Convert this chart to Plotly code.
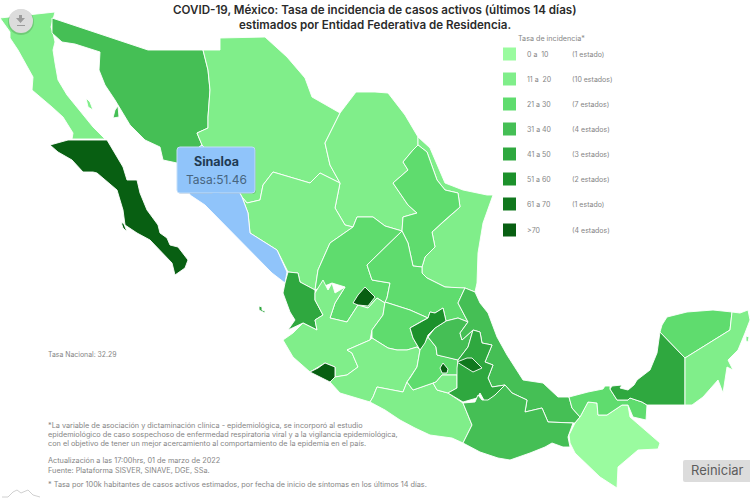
"""
Mapa de tasa de incidencia COVID-19 por entidad federativa (Plotly).
"""
import plotly.graph_objects as go

FONT = "Inter"

# Contornos estimados de cada estado, en unidades del mapa
BAJA_CALIFORNIA = [(0, 18), (18, 16), (55, 12), (51, 27), (53, 33), (55, 42), (53, 50), (55, 63), (58, 80), (67, 95),
                   (82, 113), (93, 127), (105, 139), (72, 139), (73, 133), (63, 117), (52, 107), (40, 97), (32, 90),
                   (33, 77), (25, 63), (18, 50), (10, 38), (10, 32)]
BC_ISLA = [(86, 98), (90, 102), (93, 110), (88, 107)]
BAJA_CALIFORNIA_SUR = [(50, 145), (68, 140), (107, 140), (115, 153), (123, 167), (127, 180), (137, 180), (140, 193),
                       (147, 210), (158, 225), (160, 233), (167, 238), (170, 245), (178, 247), (188, 260), (185, 268),
                       (175, 275), (172, 263), (150, 240), (137, 233), (125, 225), (123, 210), (117, 190), (97, 173),
                       (93, 172), (83, 172), (72, 160), (58, 152)]
BCS_ISLA = [(121, 222), (124, 224), (127, 232), (123, 228)]
SONORA = [(52, 18), (148, 50), (203, 50), (208, 70), (210, 90), (208, 117), (208, 128), (197, 133), (202, 145),
          (177, 163), (163, 160), (160, 147), (145, 140), (130, 125), (115, 100), (105, 85), (99, 70), (100, 52),
          (75, 44), (62, 42), (52, 33)]
SONORA_ISLA = [(118, 106), (119, 117), (113, 118), (115, 110)]
CHIHUAHUA = [(203, 50), (220, 50), (220, 38), (265, 37), (287, 57), (305, 78), (312, 97), (340, 113), (325, 143),
             (330, 165), (340, 183), (320, 173), (310, 183), (290, 177), (273, 172), (263, 185), (260, 200), (247, 203),
             (242, 197), (230, 175), (202, 145), (197, 133), (208, 128), (208, 117), (210, 90), (208, 70)]
COAHUILA = [(340, 113), (356, 92), (375, 92), (388, 93), (405, 115), (418, 137), (418, 145), (413, 150), (403, 162),
            (408, 170), (393, 183), (408, 205), (417, 213), (403, 217), (402, 231), (385, 226), (373, 217), (357, 217),
            (353, 227), (345, 225), (335, 208), (340, 183), (330, 165), (325, 143)]
NUEVO_LEON = [(418, 145), (427, 152), (437, 180), (445, 190), (458, 193), (460, 207), (445, 220), (432, 232), (435, 247),
              (425, 257), (422, 267), (413, 266), (408, 243), (402, 231), (403, 217), (417, 213), (408, 205), (393, 183),
              (408, 170), (403, 162), (413, 150)]
TAMAULIPAS = [(418, 137), (430, 148), (445, 183), (463, 190), (487, 195), (493, 195), (483, 223), (478, 253), (477, 283),
              (475, 292), (465, 288), (458, 288), (445, 287), (427, 278), (422, 273), (422, 267), (425, 257), (435, 247),
              (432, 232), (445, 220), (460, 207), (458, 193), (445, 190), (437, 180), (427, 152), (418, 145)]
SINALOA = [(177, 163), (190, 195), (205, 205), (225, 225), (245, 245), (260, 260), (272, 273), (285, 283), (287, 272),
           (277, 250), (250, 233), (248, 213), (242, 197), (230, 175), (202, 145)]
DURANGO = [(242, 197), (247, 203), (260, 200), (263, 185), (273, 172), (290, 177), (310, 183), (320, 173), (340, 183),
           (335, 208), (345, 225), (353, 227), (330, 243), (318, 270), (315, 290), (300, 282), (298, 273), (288, 272),
           (277, 250), (250, 233), (248, 213)]
ZACATECAS = [(357, 217), (373, 217), (385, 226), (402, 231), (367, 265), (372, 280), (390, 283), (387, 298), (385, 303),
             (377, 298), (368, 308), (358, 305), (347, 322), (330, 318), (335, 303), (345, 287), (332, 283), (315, 290),
             (318, 270), (330, 243), (353, 227)]
SAN_LUIS_POTOSI = [(402, 231), (408, 243), (413, 266), (422, 267), (422, 273), (427, 278), (445, 287), (458, 288),
                   (465, 288), (458, 303), (468, 322), (458, 318), (446, 321), (443, 308), (435, 313), (430, 312),
                   (428, 318), (410, 310), (385, 302), (387, 298), (390, 283), (372, 280), (367, 265)]
NAYARIT = [(288, 272), (298, 273), (300, 282), (315, 290), (315, 300), (323, 315), (315, 320), (317, 330), (303, 323),
           (288, 330), (295, 320), (290, 312), (283, 293), (285, 283)]
NAYARIT_ISLA = [(259, 306), (262, 307), (262, 310), (265, 311), (265, 313), (259, 310)]
JALISCO = [(283, 340), (293, 333), (303, 323), (317, 330), (315, 320), (323, 315), (315, 300), (315, 293), (323, 280),
           (328, 290), (332, 283), (335, 293), (345, 287), (335, 303), (330, 318), (347, 322), (358, 305), (368, 308),
           (377, 298), (385, 303), (383, 315), (372, 330), (370, 340), (347, 350), (352, 353), (358, 367), (347, 375),
           (335, 377), (335, 367), (325, 363), (310, 372), (293, 357)]
AGUASCALIENTES = [(353, 303), (358, 295), (365, 287), (375, 297), (368, 306), (358, 305)]
COLIMA = [(310, 372), (318, 368), (325, 363), (335, 367), (335, 377), (330, 382), (322, 378)]
GUANAJUATO = [(385, 302), (410, 310), (428, 318), (422, 321), (410, 328), (413, 338), (420, 350), (417, 347), (407, 350),
              (397, 350), (388, 348), (372, 338), (372, 330), (383, 315)]
QUERETARO = [(410, 328), (422, 321), (428, 318), (430, 312), (435, 313), (443, 308), (446, 321), (435, 328), (428, 335),
             (425, 343), (420, 350), (413, 338)]
HIDALGO = [(435, 328), (446, 321), (458, 318), (468, 322), (460, 333), (462, 340), (473, 330), (468, 347), (458, 360),
           (447, 357), (437, 355), (436, 347), (428, 337)]
MICHOACAN = [(335, 377), (347, 375), (358, 367), (352, 353), (347, 350), (370, 340), (372, 338), (388, 348), (397, 350),
             (407, 350), (417, 347), (420, 350), (417, 367), (410, 378), (407, 382), (403, 392), (377, 387), (373, 397),
             (370, 402), (340, 393), (330, 382)]
MEXICO = [(420, 350), (428, 337), (436, 347), (437, 355), (447, 357), (458, 360), (458, 375), (442, 375), (436, 382),
          (433, 383), (413, 390), (407, 382), (410, 378), (417, 367)]
CDMX = [(440, 368), (443, 363), (448, 369), (447, 373), (442, 373)]
MORELOS = [(436, 382), (442, 375), (457, 375), (457, 388), (448, 393), (437, 390), (433, 383)]
TLAXCALA = [(457, 362), (467, 358), (472, 358), (482, 368), (473, 372), (467, 368)]
PUEBLA = [(473, 330), (480, 332), (482, 343), (492, 345), (485, 362), (493, 365), (488, 378), (492, 387), (505, 385),
          (493, 397), (485, 402), (480, 393), (477, 398), (463, 402), (448, 393), (457, 388), (457, 368), (458, 360),
          (468, 347)]
GUERRERO = [(370, 402), (373, 397), (377, 387), (403, 392), (407, 382), (413, 390), (433, 383), (437, 390), (448, 393),
            (463, 403), (472, 425), (463, 443), (452, 438), (430, 435), (415, 428), (400, 420), (385, 410)]
VERACRUZ = [(465, 288), (475, 292), (480, 303), (488, 313), (497, 337), (507, 355), (523, 380), (543, 383), (558, 397),
            (569, 397), (572, 408), (580, 417), (575, 423), (548, 422), (542, 408), (525, 412), (527, 400), (512, 393),
            (505, 385), (492, 387), (488, 378), (493, 365), (485, 362), (492, 345), (482, 343), (480, 332), (473, 330),
            (462, 340), (460, 333), (468, 322), (458, 303)]
OAXACA = [(463, 403), (475, 402), (478, 395), (482, 400), (488, 400), (495, 395), (505, 385), (512, 393), (527, 400),
          (525, 412), (542, 408), (548, 422), (573, 423), (568, 437), (570, 447), (563, 447), (552, 443), (545, 447),
          (530, 453), (510, 460), (498, 458), (480, 452), (463, 443), (472, 425)]
CHIAPAS = [(588, 402), (597, 403), (598, 415), (607, 415), (622, 405), (628, 405), (630, 417), (647, 432), (660, 443),
           (658, 449), (638, 450), (618, 467), (617, 488), (600, 477), (575, 453), (570, 443), (569, 435), (575, 423),
           (580, 417)]
TABASCO = [(569, 397), (588, 392), (603, 389), (605, 386), (610, 386), (610, 389), (617, 400), (628, 400), (630, 398),
           (642, 402), (647, 405), (646, 420), (633, 417), (628, 405), (622, 405), (607, 415), (598, 415), (597, 403),
           (588, 402), (580, 417), (572, 408)]
CAMPECHE = [(660, 332), (685, 358), (685, 405), (647, 405), (642, 402), (630, 398), (628, 400), (617, 400), (610, 389),
            (612, 386), (622, 385), (620, 388), (628, 390), (634, 385), (637, 380), (650, 370), (657, 353)]
YUCATAN = [(662, 325), (667, 317), (687, 312), (713, 310), (732, 312), (730, 330), (685, 358), (660, 332)]
QUINTANA_ROO = [(732, 312), (740, 313), (748, 310), (750, 320), (745, 333), (738, 350), (728, 360), (733, 370), (727, 367),
                (723, 393), (718, 380), (703, 397), (692, 405), (685, 405), (685, 358), (730, 330)]
QROO_ISLA = [(746, 336), (749, 337), (748, 342), (746, 341)]

# Contorno del logotipo inferior izquierdo
LOGO_X = [2, 8, 13, 17, 21, 24, 28, 33, 40]
LOGO_Y = [497, 497, 492, 490, 493, 492, 490, 495, 497]

# nombre, partes del contorno, tasa estimada (el orden es el de dibujo)
ESTADOS = [
    ("Baja California", [BAJA_CALIFORNIA, BC_ISLA], 15.2),
    ("Baja California Sur", [BAJA_CALIFORNIA_SUR, BCS_ISLA], 78.4),
    ("Sonora", [SONORA, SONORA_ISLA], 36.1),
    ("Chihuahua", [CHIHUAHUA], 14.3),
    ("Coahuila", [COAHUILA], 16.8),
    ("Tamaulipas", [TAMAULIPAS], 17.5),
    ("Nuevo León", [NUEVO_LEON], 26.4),
    ("Durango", [DURANGO], 13.6),
    ("Zacatecas", [ZACATECAS], 24.9),
    ("San Luis Potosí", [SAN_LUIS_POTOSI], 27.3),
    ("Sinaloa", [SINALOA], 51.46),
    ("Nayarit", [NAYARIT, NAYARIT_ISLA], 44.7),
    ("Jalisco", [JALISCO], 18.2),
    ("Guanajuato", [GUANAJUATO], 25.8),
    ("Michoacán", [MICHOACAN], 12.9),
    ("Guerrero", [GUERRERO], 14.6),
    ("México", [MEXICO], 23.1),
    ("Morelos", [MORELOS], 19.4),
    ("Hidalgo", [HIDALGO], 33.5),
    ("Querétaro", [QUERETARO], 54.2),
    ("Veracruz", [VERACRUZ], 35.7),
    ("Puebla", [PUEBLA], 47.3),
    ("Oaxaca", [OAXACA], 34.8),
    ("Chiapas", [CHIAPAS], 7.6),
    ("Tabasco", [TABASCO], 28.1),
    ("Campeche", [CAMPECHE], 42.5),
    ("Yucatán", [YUCATAN], 27.9),
    ("Quintana Roo", [QUINTANA_ROO, QROO_ISLA], 17.1),
    ("Aguascalientes", [AGUASCALIENTES], 82.6),
    ("Colima", [COLIMA], 75.3),
    ("Ciudad de México", [CDMX], 88.0),
    ("Tlaxcala", [TLAXCALA], 65.2),
]

# Leyenda
LIMITES = [10.99, 20.99, 30.99, 40.99, 50.99, 60.99, 70.99]
COLORES = ["#9afb9f", "#80ee8a", "#5fdc6e", "#45bf55", "#2fa83f", "#1c912b", "#11781e", "#085f12"]
RANGOS = ["0 a  10", "11 a  20", "21 a 30", "31 a 40", "41 a 50", "51 a 60", "61 a 70", ">70"]
CONTEOS = ["(1 estado)", "(10 estados)", "(7 estados)", "(4 estados)", "(3 estados)", "(2 estados)", "(1 estado)",
           "(4 estados)"]
LEYENDA_Y = [54, 79, 104, 129, 154, 179, 204, 230]

SELECCIONADO = "Sinaloa"
COLOR_SELECCION = "#90c4fa"

TITULO = ["COVID-19, México: Tasa de incidencia de casos activos (últimos 14 días)",
          "estimados por Entidad Federativa de Residencia."]
TASA_NACIONAL = "Tasa Nacional: 32.29"
NOTAS = [
    (425, "*La variable de asociación y dictaminación clínica - epidemiológica, se incorporó al estudio"),
    (434, "epidemiológico de caso sospechoso de enfermedad respiratoria viral y a la vigilancia epidemiológica,"),
    (443, "con el objetivo de tener un mejor acercamiento al comportamiento de la epidemia en el país."),
    (460, "Actualización a las 17:00hrs, 01 de marzo de 2022"),
    (470, "Fuente: Plataforma SISVER, SINAVE, DGE, SSa."),
    (484, "* Tasa por 100k habitantes de casos activos estimados, por fecha de inicio de síntomas en los últimos 14 días."),
]


def color_tasa(nombre, tasa):
    if nombre == SELECCIONADO:
        return COLOR_SELECCION
    for limite, color in zip(LIMITES, COLORES):
        if tasa <= limite:
            return color
    return COLORES[-1]


def texto(x, y, s, size=7.0, color="#858585", anchor="left", weight=400):
    return dict(x=x, y=y, xref="x", yref="y", text=s, showarrow=False, xanchor=anchor, yanchor="middle",
                font=dict(family=FONT, size=size, color=color, weight=weight))


def caja_redondeada(x0, y0, x1, y1, r):
    return (f"M {x0 + r} {y0} L {x1 - r} {y0} Q {x1} {y0} {x1} {y0 + r} L {x1} {y1 - r} Q {x1} {y1} {x1 - r} {y1} "
            f"L {x0 + r} {y1} Q {x0} {y1} {x0} {y1 - r} L {x0} {y0 + r} Q {x0} {y0} {x0 + r} {y0} Z")


fig = go.Figure()

for nombre, partes, tasa in ESTADOS:
    xs, ys = [], []
    for parte in partes:
        xs += [p[0] for p in parte] + [parte[0][0], None]
        ys += [p[1] for p in parte] + [parte[0][1], None]
    fig.add_trace(go.Scatter(
        x=xs, y=ys, mode="lines", fill="toself", name=nombre,
        fillcolor=color_tasa(nombre, tasa), line=dict(color="white", width=0.9),
        hoveron="fills", text=f"{nombre}<br>Tasa:{tasa}", hoverinfo="text",
    ))

# Cuadros de la leyenda
fig.add_trace(go.Scatter(
    x=[509.5] * len(COLORES), y=LEYENDA_Y, mode="markers", hoverinfo="skip",
    marker=dict(symbol="square", size=13, color=COLORES, line=dict(width=0)),
))
fig.add_trace(go.Scatter(
    x=LOGO_X, y=LOGO_Y, mode="lines", hoverinfo="skip", line=dict(color="#c4c4c4", width=0.8),
))

anotaciones = [texto(375, 10 + 15 * i, s, size=11.6, color="#2b2b2b", anchor="center", weight=600)
               for i, s in enumerate(TITULO)]
anotaciones.append(texto(516, 38, "Tasa de incidencia*", size=7.2))
for y, rango, conteo in zip(LEYENDA_Y, RANGOS, CONTEOS):
    anotaciones.append(texto(524.5, y, rango))
    anotaciones.append(texto(570, y, conteo))
anotaciones.append(texto(46, 354, TASA_NACIONAL, size=6.9))
anotaciones += [texto(46, y, s, size=7.3) for y, s in NOTAS]

# Tooltip de Sinaloa y botones
anotaciones.append(texto(216, 161, SELECCIONADO, size=12.5, color="#1f3a52", anchor="center", weight=700))
anotaciones.append(texto(216, 179, "Tasa:51.46", size=12, color="#47657f", anchor="center"))
anotaciones.append(texto(717, 470, "Reiniciar", size=13, color="#5c5c5c", anchor="center"))

formas = [
    # sombra y cuerpo del tooltip
    dict(type="path", path=caja_redondeada(178, 148, 256, 194, 3), line_width=0, fillcolor="rgba(0,0,0,0.12)",
         layer="above"),
    dict(type="path", path=caja_redondeada(177, 147, 255, 193, 3), line=dict(color="#c3def8", width=1),
         fillcolor=COLOR_SELECCION, layer="above"),
    dict(type="path", path="M 212 193 L 216 197 L 220 193 Z", line_width=0, fillcolor=COLOR_SELECCION, layer="above"),
    # botón de descarga
    dict(type="circle", x0=8, y0=9, x1=34, y1=35, line_width=0, fillcolor="rgba(0,0,0,0.14)", layer="above"),
    dict(type="circle", x0=9, y0=9, x1=33, y1=33, line_width=0, fillcolor="#dcdcdc", layer="above"),
    dict(type="path", path="M 19 15 L 22 15 L 22 18 L 25 18 L 20.5 23 L 16 18 L 19 18 Z", line_width=0,
         fillcolor="#9b9b9b", layer="above"),
    dict(type="rect", x0=17, y0=25, x1=25, y1=26, line_width=0, fillcolor="#9b9b9b", layer="above"),
    # botón reiniciar
    dict(type="path", path=caja_redondeada(683, 460, 752, 482, 2), line_width=0, fillcolor="#dcdcdc", layer="above"),
]

fig.update_layout(
    width=750, height=502, margin=dict(t=0, b=0, l=0, r=0),
    plot_bgcolor="white", paper_bgcolor="white", showlegend=False,
    annotations=anotaciones, shapes=formas,
    xaxis=dict(range=[0, 750], visible=False, fixedrange=True),
    yaxis=dict(range=[502, 0], visible=False, fixedrange=True),
)

# el cuerpo de la página trae margen por defecto
fig.write_html("out.html", config={"displayModeBar": False},
               post_script="document.body.style.margin='0';")
